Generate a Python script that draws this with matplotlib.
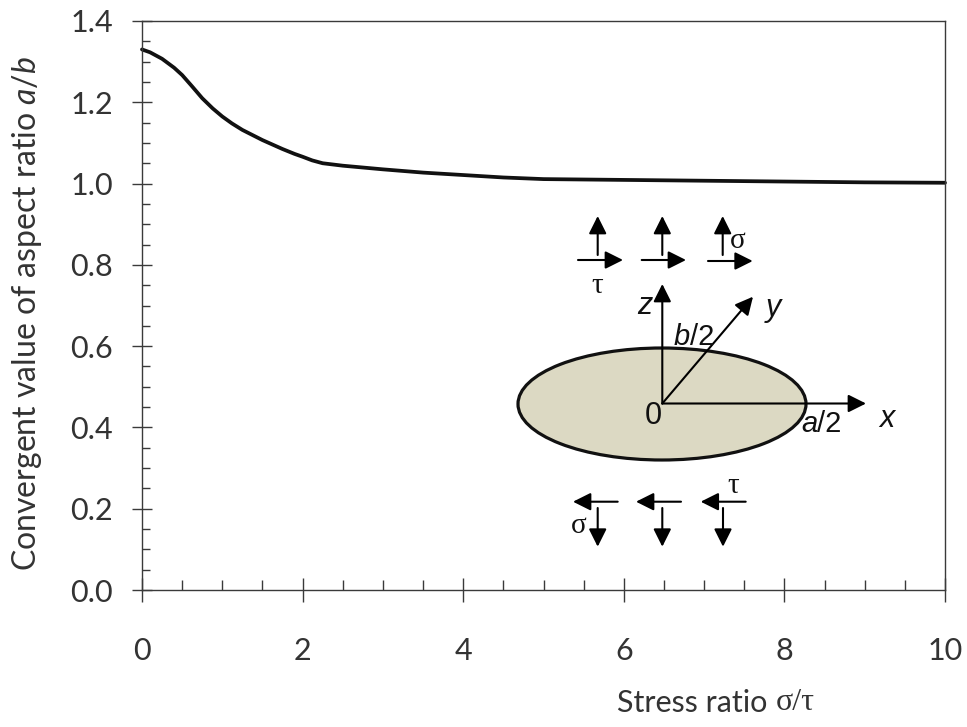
import matplotlib
matplotlib.use("Agg")
import matplotlib.pyplot as plt
from matplotlib.patches import Ellipse, FancyArrowPatch
from matplotlib.transforms import Affine2D

W, H = 967, 727
ratio = [0, 0.1, 0.25, 0.4, 0.5, 0.62, 0.75, 0.88, 1.0, 1.12, 1.25, 1.5, 1.75, 1.9, 2.0, 2.12, 2.25, 2.5, 3, 3.5, 4, 4.5, 5, 6, 7, 8, 9, 10]
aspect = [1.33, 1.323, 1.307, 1.285, 1.267, 1.24, 1.21, 1.185, 1.165, 1.148, 1.132, 1.107, 1.085, 1.073, 1.066, 1.057, 1.05, 1.044, 1.035, 1.027, 1.021, 1.015, 1.011, 1.009, 1.007, 1.005, 1.003, 1.002]
xticks = [0, 2, 4, 6, 8, 10]
yticks = [0.0, 0.2, 0.4, 0.6, 0.8, 1.0, 1.2, 1.4]
xminor = [0.5, 1, 1.5, 2.5, 3, 3.5, 4.5, 5, 5.5, 6.5, 7, 7.5, 8.5, 9, 9.5]
yminor = [0.05, 0.1, 0.15, 0.25, 0.3, 0.35, 0.45, 0.5, 0.55, 0.65, 0.7, 0.75, 0.85, 0.9, 0.95, 1.05, 1.1, 1.15, 1.25, 1.3, 1.35]

plt.rcParams["mathtext.fontset"] = "custom"
plt.rcParams["mathtext.it"] = "Lato:italic"
plt.rcParams["mathtext.rm"] = "Lato"

INK = "#3a3a3a"
TXT = "#333333"
fig = plt.figure(figsize=(W/100, H/100), dpi=100)
ax = fig.add_axes([142/W, 1-590/H, (945-142)/W, (590-21)/H])
ax.plot(ratio, aspect, color="#111111", lw=2.7, solid_capstyle="round", solid_joinstyle="round", clip_on=False)
ax.set_xlim(0, 10)
ax.set_ylim(0, 1.4)
ax.set_xticks(xticks)
ax.set_yticks(yticks)
ax.set_xticklabels([str(v) for v in xticks])
ax.set_yticklabels([f"{v:.1f}" for v in yticks])
ax.set_xticks(xminor, minor=True)
ax.set_yticks(yminor, minor=True)
for s in ("left", "bottom", "top", "right"):
    ax.spines[s].set_color(INK)
    ax.spines[s].set_linewidth(1.0)
ax.tick_params(axis="y", which="major", direction="inout", length=14, width=1.0, color=INK, pad=14, labelsize=22, labelcolor=TXT)
ax.tick_params(axis="x", which="major", direction="inout", length=17, width=1.0, color=INK, pad=25, labelsize=22, labelcolor=TXT)
ax.tick_params(axis="x", which="minor", direction="in", length=7, width=1.0, color=INK)
ax.tick_params(axis="y", which="minor", direction="in", length=6, width=1.0, color=INK)
for lab in ax.get_xticklabels() + ax.get_yticklabels():
    lab.set_fontfamily("Lato")

# Pixel-space layer for the schematic
tr = Affine2D().scale(1, -1).translate(0, H)
fig.text(27/W, 1-314/H, "Convergent value of aspect ratio $\\mathit{a/b}$", rotation=90, ha="center", va="center",
         fontsize=23, family="Lato", color=TXT)
fig.text(617/W, 1-703/H, "Stress ratio ", ha="left", va="center", fontsize=22, family="Lato", color=TXT)
fig.text(776/W, 1-703/H, "σ/τ", ha="left", va="center", fontsize=23, family="Liberation Serif", color=TXT)

fig.add_artist(Ellipse((662, 404), 288, 112, transform=tr, facecolor="#dcd9c3", edgecolor="#111111", lw=2.3))

arrows = [
    (597.7, 255, 597.7, 216), (662.3, 255, 662.3, 216), (722.7, 255, 722.7, 216),
    (578, 260, 623, 260), (641.7, 260, 686, 260), (708, 261, 752.7, 261),
    (662.3, 403.5, 662.3, 284), (662.3, 403.5, 753, 296.7), (662.3, 403.5, 866, 403.5),
    (617.7, 501.7, 573, 501.7), (681, 501.7, 636, 501.7), (745.7, 501.7, 700.7, 501.7),
    (597.7, 508, 597.7, 546.7), (662.3, 508, 662.3, 546.7), (723, 508, 723, 546.7),
]
for x0, y0, x1, y1 in arrows:
    fig.add_artist(FancyArrowPatch((x0, y0), (x1, y1), transform=tr, arrowstyle="-|>,head_length=0.54,head_width=0.27",
                                   mutation_scale=20, color="#000000", lw=1.5, shrinkA=0, shrinkB=0))

labels = [
    (597.7, 286, "τ", "Liberation Serif", "normal", 21),
    (738, 241, "σ", "Liberation Serif", "normal", 21),
    (733, 486, "τ", "Liberation Serif", "normal", 21),
    (579, 526, "σ", "Liberation Serif", "normal", 21),
    (645, 306, "z", "Liberation Sans", "italic", 22),
    (773, 308, "y", "Liberation Sans", "italic", 22),
    (887, 419, "x", "Liberation Sans", "italic", 22),
    (653, 416, "0", "Liberation Sans", "normal", 22),
]
for x, y, s, fam, st, fs in labels:
    fig.text(x/W, 1-y/H, s, ha="center", va="center", family=fam, style=st, fontsize=fs, color="#111111")
fig.text(674/W, 1-337/H, "b", ha="left", va="center", family="Liberation Sans", style="italic", fontsize=21, color="#111111")
fig.text(690/W, 1-337/H, "/2", ha="left", va="center", family="Liberation Sans", fontsize=21, color="#111111")
fig.text(801/W, 1-424/H, "a", ha="left", va="center", family="Liberation Sans", style="italic", fontsize=21, color="#111111")
fig.text(817/W, 1-424/H, "/2", ha="left", va="center", family="Liberation Sans", fontsize=21, color="#111111")
fig.savefig("out.png", dpi=100)
